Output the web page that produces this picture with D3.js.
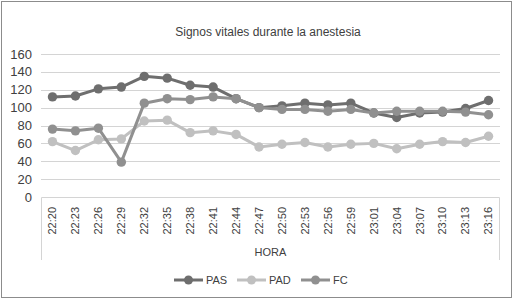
<!DOCTYPE html>
<html>
<head>
<meta charset="utf-8">
<script src="https://cdn.jsdelivr.net/npm/d3@7"></script>
<style>
  body { margin: 0; background: #fff; }
  svg { display: block; font-family: "Liberation Sans", Arial, sans-serif; }
</style>
</head>
<body>
<svg id="chart" width="517" height="301"></svg>
<script>
// horas del registro
var horas = ["22:20", "22:23", "22:26", "22:29", "22:32", "22:35", "22:38", "22:41", "22:44", "22:47",
             "22:50", "22:53", "22:56", "22:59", "23:01", "23:04", "23:07", "23:10", "23:13", "23:16"];
var pas = [112, 113, 121, 123, 135, 133, 125, 123, 110, 100, 102, 105, 103, 105, 94, 89, 94, 95, 99, 108];
var pad = [62, 52, 64, 65, 85, 86, 72, 74, 70, 56, 59, 61, 56, 59, 60, 54, 59, 62, 61, 68];
var fc = [76, 74, 77, 39, 105, 110, 109, 112, 110, 100, 98, 98, 96, 98, 94, 96, 96, 96, 95, 92];
var yTicks = [0, 20, 40, 60, 80, 100, 120, 140, 160];

var series = [
    { name: "PAS", values: pas, color: "#6e6e6e" },
    { name: "PAD", values: pad, color: "#c0c0c0" },
    { name: "FC", values: fc, color: "#909090" }
];

var svg = d3.select("#chart"),
    margin = { top: 54, right: 17, bottom: 104, left: 41 },
    width = +svg.attr("width") - margin.left - margin.right,
    height = +svg.attr("height") - margin.top - margin.bottom;

// marco exterior
svg.append("rect")
    .attr("x", 1.5).attr("y", 1.5)
    .attr("width", 510).attr("height", 296)
    .attr("fill", "#fff")
    .attr("stroke", "#8c8c8c");

svg.append("text")
    .attr("x", 268).attr("y", 36)
    .attr("text-anchor", "middle")
    .attr("font-size", 12)
    .attr("fill", "#404040")
    .text("Signos vitales durante la anestesia");

var x = d3.scaleBand().domain(horas).range([0, width]),
    y = d3.scaleLinear().domain([0, 160]).range([height, 0]);

var g = svg.append("g").attr("transform", "translate(" + margin.left + "," + margin.top + ")");

// grid
g.selectAll(".grid").data(yTicks.filter(function (d) { return d > 0; }))
    .enter().append("line")
    .attr("x1", 0).attr("x2", width)
    .attr("y1", function (d) { return Math.round(y(d)) + 0.5; })
    .attr("y2", function (d) { return Math.round(y(d)) + 0.5; })
    .attr("stroke", "#d4d4d4");

// eje y
g.selectAll(".ylab").data(yTicks)
    .enter().append("text")
    .attr("x", -9)
    .attr("y", function (d) { return y(d); })
    .attr("dy", "0.35em")
    .attr("text-anchor", "end")
    .attr("font-size", 13)
    .attr("fill", "#404040")
    .text(function (d) { return d; });

// caja del eje de categorias
var boxBottom = height + 63;
g.append("path")
    .attr("d", "M0.5," + boxBottom + "V" + (Math.round(height) + 0.5) + "H" + (width - 0.5) + "V" + boxBottom)
    .attr("fill", "none")
    .attr("stroke", "#d4d4d4");

g.selectAll(".xlab").data(horas)
    .enter().append("text")
    .attr("transform", function (d) {
        return "translate(" + (x(d) + x.bandwidth() / 2) + "," + (height + 10) + ") rotate(-90)";
    })
    .attr("dy", "0.35em")
    .attr("text-anchor", "end")
    .attr("font-size", 11)
    .attr("fill", "#404040")
    .text(function (d) { return d; });

g.append("text")
    .attr("x", width / 2)
    .attr("y", height + 59)
    .attr("text-anchor", "middle")
    .attr("font-size", 11)
    .attr("fill", "#404040")
    .text("HORA");

// series
var line = d3.line()
    .x(function (d, i) { return x(horas[i]) + x.bandwidth() / 2; })
    .y(function (d) { return y(d); });

series.forEach(function (s) {
    var sg = g.append("g");
    sg.append("path")
        .attr("d", line(s.values))
        .attr("fill", "none")
        .attr("stroke", s.color)
        .attr("stroke-width", 3)
        .attr("stroke-linejoin", "round");
    sg.selectAll("circle").data(s.values)
        .enter().append("circle")
        .attr("cx", function (d, i) { return x(horas[i]) + x.bandwidth() / 2; })
        .attr("cy", function (d) { return y(d); })
        .attr("r", 4.7)
        .attr("fill", s.color);
});

// leyenda
var legX = [174, 237, 301];
var leg = svg.selectAll(".leg").data(series)
    .enter().append("g")
    .attr("transform", function (d, i) { return "translate(" + legX[i] + ",280)"; });
leg.append("line")
    .attr("x1", 0).attr("x2", 29)
    .attr("stroke", function (d) { return d.color; })
    .attr("stroke-width", 3);
leg.append("circle")
    .attr("cx", 14.5).attr("r", 4.5)
    .attr("fill", function (d) { return d.color; });
leg.append("text")
    .attr("x", 32).attr("dy", "0.35em")
    .attr("font-size", 11)
    .attr("fill", "#404040")
    .text(function (d) { return d.name; });
</script>
</body>
</html>
